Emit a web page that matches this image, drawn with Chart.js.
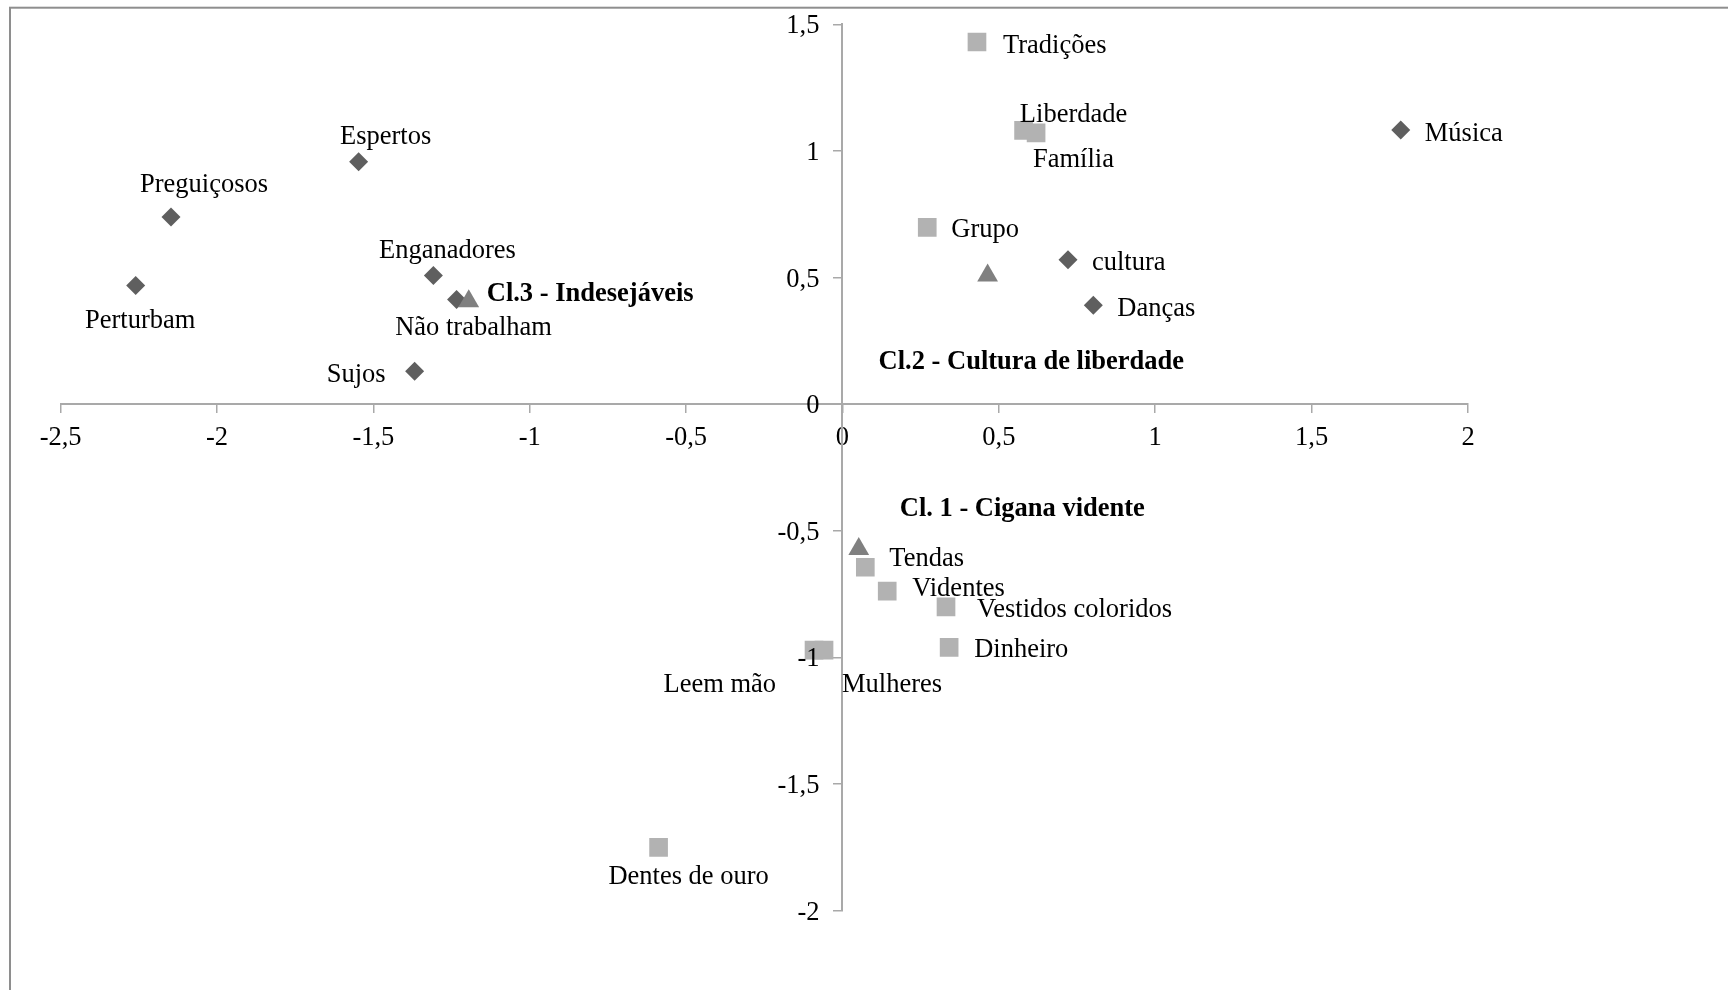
<!DOCTYPE html>
<html>
<head>
<meta charset="utf-8">
<script src="https://cdn.jsdelivr.net/npm/chart.js@4"></script>
<style>
  html, body { margin: 0; padding: 0; background: #fff; }
  canvas { display: block; }
</style>
</head>
<body>
<canvas id="chart" width="1728" height="990"></canvas>
<script>
//======================================
// Data
//======================================

const diamondNames = ["Espertos", "Preguiçosos", "Perturbam", "Enganadores", "Não trabalham", "Sujos", "Música", "cultura", "Danças"];
const diamondX = [-1.547, -2.147, -2.260, -1.308, -1.234, -1.368, 1.785, 0.721, 0.802];
const diamondY = [0.957, 0.739, 0.469, 0.508, 0.413, 0.130, 1.083, 0.570, 0.391];

const squareNames = ["Tradições", "Liberdade", "Família", "Grupo", "Tendas", "Videntes", "Vestidos coloridos", "Dinheiro", "Leem mão", "Mulheres", "Dentes de ouro"];
const squareX = [0.430, 0.579, 0.619, 0.271, 0.073, 0.143, 0.331, 0.341, -0.091, -0.059, -0.588];
const squareY = [1.430, 1.081, 1.071, 0.698, -0.644, -0.738, -0.800, -0.960, -0.971, -0.971, -1.750];

const clusterNames = ["Cl.3 - Indesejáveis", "Cl.2 - Cultura de liberdade", "Cl. 1 - Cigana vidente"];
const clusterX = [-1.195, 0.464, 0.052];
const clusterY = [0.406, 0.508, -0.572];

const xTickValues = [-2.5, -2, -1.5, -1, -0.5, 0, 0.5, 1, 1.5, 2];
const yTickValues = [-2, -1.5, -1, -0.5, 0, 0.5, 1, 1.5];

//======================================
// Label placement (px offsets from the marker)
//======================================

const diamondLabelPos = [
    [27, -26.5, "center"], [33, -34, "center"], [4.5, 34, "center"],
    [14, -26.5, "center"], [17, 26.5, "center"], [-29, 2, "right"],
    [24, 2, "left"], [24, 1, "left"], [24, 2, "left"]
];
const squareLabelPos = [
    [26, 2, "left"], [50, -17, "center"], [37.4, 25, "center"],
    [24, 1, "left"], [24, -10, "left"], [25, -4, "left"],
    [31, 1, "left"], [25, 1, "left"], [-38, 33, "right"],
    [18, 33, "left"], [30, 27.5, "center"]
];
const clusterLabelPos = [
    [18, -9, "left"], [-109, 85, "left"], [41, -42, "left"]
];

const FONT = '"Liberation Serif", "Times New Roman", serif';
const FONT_SIZE = 26.5;
const AXIS_GRAY = "#a9a9a9";

function toPoints(xs, ys){
    return xs.map((x, i) => ({ x: x, y: ys[i] }));
}

function formatTick(v){
    return String(v).replace(".", ",");
}

//======================================
// Plugins
//======================================

const frame = {
    id: "frame",
    beforeDraw(chart){
        const ctx = chart.ctx;
        ctx.save();
        ctx.fillStyle = "#fff";
        ctx.fillRect(0, 0, chart.width, chart.height);
        ctx.strokeStyle = "#8e8e8e";
        ctx.lineWidth = 2;
        ctx.strokeRect(10, 7.7, chart.width + 100, chart.height + 100);
        ctx.restore();
    }
};

// y labels sit left of the crossing axis, away from the line
const yTickLabels = {
    id: "yTickLabels",
    afterDraw(chart){
        const ctx = chart.ctx;
        const ys = chart.scales.y;
        const x0 = chart.scales.x.getPixelForValue(0);
        ctx.save();
        ctx.font = FONT_SIZE + "px " + FONT;
        ctx.fillStyle = "#000";
        ctx.textAlign = "right";
        ctx.textBaseline = "middle";
        ys.ticks.forEach(t => {
            ctx.fillText(formatTick(t.value), x0 - 23, ys.getPixelForValue(t.value) + 2);
        });
        ctx.restore();
    }
};

const pointLabels = {
    id: "pointLabels",
    afterDatasetsDraw(chart){
        const ctx = chart.ctx;
        chart.data.datasets.forEach((ds, i) => {
            const meta = chart.getDatasetMeta(i);
            meta.data.forEach((pt, j) => {
                const pos = ds.labelPos[j];
                ctx.save();
                ctx.font = (ds.bold ? "bold " : "") + FONT_SIZE + "px " + FONT;
                ctx.fillStyle = "#000";
                ctx.textAlign = pos[2];
                ctx.textBaseline = "middle";
                ctx.fillText(ds.names[j], pt.x + pos[0], pt.y + pos[1] + 2);
                ctx.restore();
            });
        });
    }
};

//======================================
// Chart
//======================================

new Chart(document.getElementById("chart"), {

    type: "scatter",

    data: {
        datasets: [
            {
                label: "Clusters",
                data: toPoints(clusterX, clusterY),
                names: clusterNames,
                labelPos: clusterLabelPos,
                bold: true,
                pointStyle: "triangle",
                pointRadius: 12,
                backgroundColor: "#808080",
                borderWidth: 0,
                order: 1
            },
            {
                label: "Squares",
                data: toPoints(squareX, squareY),
                names: squareNames,
                labelPos: squareLabelPos,
                pointStyle: "rect",
                pointRadius: 13.2,
                backgroundColor: "#b2b2b2",
                borderWidth: 0,
                order: 2
            },
            {
                label: "Diamonds",
                data: toPoints(diamondX, diamondY),
                names: diamondNames,
                labelPos: diamondLabelPos,
                pointStyle: "rectRot",
                pointRadius: 9.5,
                backgroundColor: "#5f5f5f",
                borderWidth: 0,
                order: 3
            }
        ]
    },

    options: {
        responsive: false,
        animation: false,
        devicePixelRatio: 1,
        layout: {
            padding: { left: 60.6, right: 260, top: 24.3, bottom: 79.3 }
        },
        plugins: {
            legend: { display: false },
            tooltip: { enabled: false }
        },
        scales: {
            x: {
                type: "linear",
                min: -2.5,
                max: 2,
                position: { y: 0 },
                afterFit: s => { s.height = 0; },
                afterBuildTicks: s => { s.ticks = xTickValues.map(v => ({ value: v })); },
                ticks: {
                    callback: formatTick,
                    font: { family: FONT, size: FONT_SIZE },
                    color: "#000",
                    padding: 10,
                    maxRotation: 0,
                    autoSkip: false
                },
                grid: {
                    drawOnChartArea: false,
                    drawTicks: true,
                    tickLength: 8,
                    color: AXIS_GRAY,
                    lineWidth: 1.5
                },
                border: { display: true, color: AXIS_GRAY, width: 2 }
            },
            y: {
                type: "linear",
                min: -2,
                max: 1.5,
                position: { x: 0 },
                afterFit: s => { s.width = 0; },
                afterBuildTicks: s => { s.ticks = yTickValues.map(v => ({ value: v })); },
                ticks: { display: false },
                grid: {
                    drawOnChartArea: false,
                    drawTicks: true,
                    tickLength: 8,
                    color: AXIS_GRAY,
                    lineWidth: 1.5
                },
                border: { display: true, color: AXIS_GRAY, width: 2 }
            }
        }
    },

    plugins: [frame, yTickLabels, pointLabels]

});
</script>
</body>
</html>
